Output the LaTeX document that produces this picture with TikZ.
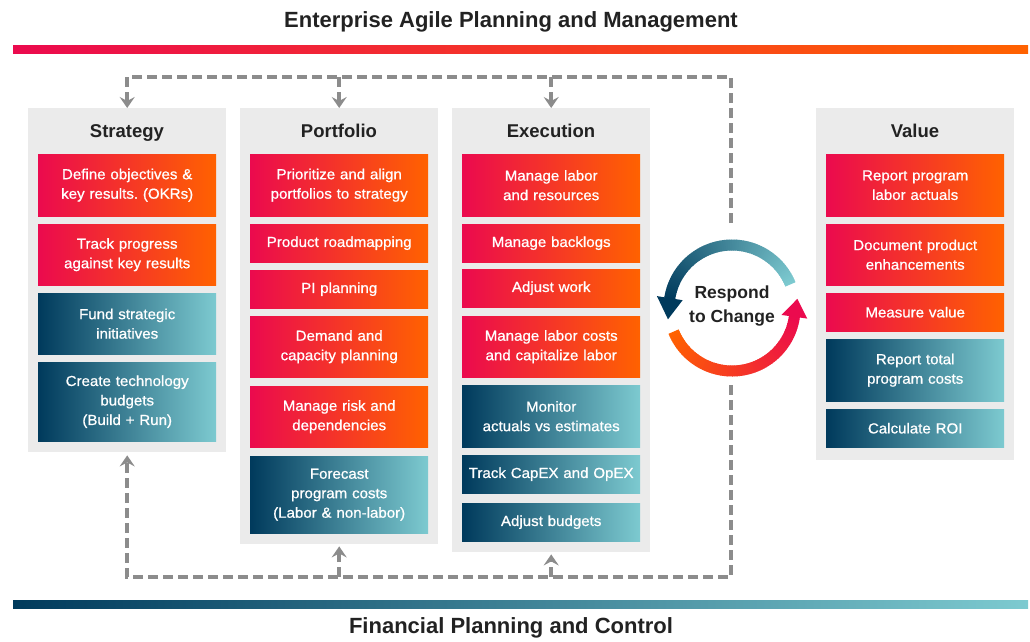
\documentclass[tikz,border=0pt]{standalone}
\usepackage{fontspec}
\setmainfont{Liberation Sans}
\newfontfamily\medfont[FakeBold=0.8,FakeStretch=1.04]{Liberation Sans}
\usetikzlibrary{arrows.meta}
\definecolor{pinkc}{HTML}{EB0A4E}
\definecolor{orangec}{HTML}{FF6200}
\definecolor{navyc}{HTML}{003A5C}
\definecolor{tealc}{HTML}{7DCAD0}
\definecolor{panelc}{HTML}{EBEBEB}
\definecolor{dashc}{HTML}{8C8C8C}
\definecolor{inkc}{HTML}{222222}
\frenchspacing
\begin{document}
\begin{tikzpicture}[x=1pt,y=-1pt,
  panel/.style={fill=panelc, inner sep=0pt, anchor=north west, minimum width=198pt},
  hdr/.style={font=\fontsize{18.5}{20}\selectfont\bfseries, text=inkc, anchor=base, inner sep=0pt},
  ttl/.style={font=\fontsize{22}{24}\selectfont\bfseries, text=inkc},
  box/.style={inner sep=0pt, anchor=north west, minimum width=178pt, text width=178pt, align=center, text=white, font=\medfont\fontsize{14.5}{19.5}\selectfont},
  orbox/.style={box, left color=pinkc, right color=orangec},
  blbox/.style={box, left color=navyc, right color=tealc},
  link/.style={draw=dashc, line width=4.5pt, dash pattern=on 10pt off 5pt, line join=miter},
  linkarr/.style={link, -{Stealth[length=11pt,width=15pt,inset=4pt,fill=dashc]}}
]
\useasboundingbox (0,0) rectangle (1030,641);
\fill[white] (0,0) rectangle (1030,641);

% titles and bars
\node[ttl] (title) at (511,22) {Enterprise Agile Planning and Management};
\shade[left color=pinkc, right color=orangec] (13,45) rectangle (1028,53);
\shade[left color=navyc, right color=tealc] (13,600) rectangle (1028,608);
\node[ttl] (ftitle) at (511,628) {Financial Planning and Control};

% panels
\node[panel, minimum height=344pt] (strategy) at (28,108) {};
\node[panel, minimum height=436pt] (portfolio) at (240,108) {};
\node[panel, minimum height=444pt] (execution) at (452,108) {};
\node[panel, minimum height=352pt] (value) at (816,108) {};

\node[hdr] (hs) at (127,137) {Strategy};
\node[hdr] (hp) at (339,137) {Portfolio};
\node[hdr] (he) at (551,137) {Execution};
\node[hdr] (hv) at (915,137) {Value};

% strategy
\node[orbox, minimum height=62pt] (s1) at (38,154) {Define objectives \&\\key results. (OKRs)};
\node[orbox, minimum height=61pt] (s2) at (38,224) {Track progress\\against key results};
\node[blbox, minimum height=61pt] (s3) at (38,293) {Fund strategic\\initiatives};
\node[blbox, minimum height=79pt] (s4) at (38,362) {Create technology\\budgets\\(Build + Run)};

% portfolio
\node[orbox, minimum height=62pt] (p1) at (250,154) {Prioritize and align\\portfolios to strategy};
\node[orbox, minimum height=38pt] (p2) at (250,224) {Product roadmapping};
\node[orbox, minimum height=38pt] (p3) at (250,270) {PI planning};
\node[orbox, minimum height=61pt] (p4) at (250,316) {Demand and\\capacity planning};
\node[orbox, minimum height=61pt] (p5) at (250,386) {Manage risk and\\dependencies};
\node[blbox, minimum height=77pt] (p6) at (250,456) {Forecast\\program costs\\(Labor \& non-labor)};

% execution
\node[orbox, minimum height=62pt] (e1) at (462,154) {Manage labor\\and resources};
\node[orbox, minimum height=38pt] (e2) at (462,224) {Manage backlogs};
\node[orbox, minimum height=38pt] (e3) at (462,269) {Adjust work};
\node[orbox, minimum height=61pt] (e4) at (462,316) {Manage labor costs\\and capitalize labor};
\node[blbox, minimum height=62pt] (e5) at (462,385) {Monitor\\actuals vs estimates};
\node[blbox, minimum height=38pt] (e6) at (462,455) {Track CapEX and OpEX};
\node[blbox, minimum height=38pt] (e7) at (462,503) {Adjust budgets};

% value
\node[orbox, minimum height=62pt] (v1) at (826,154) {Report program\\labor actuals};
\node[orbox, minimum height=61pt] (v2) at (826,224) {Document product\\enhancements};
\node[orbox, minimum height=38pt] (v3) at (826,293) {Measure value};
\node[blbox, minimum height=62pt] (v4) at (826,339) {Report total\\program costs};
\node[blbox, minimum height=38pt] (v5) at (826,409) {Calculate ROI};

% respond to change cycle
\node[font=\fontsize{17.5}{24}\selectfont\bfseries, text=inkc, align=center] (cyc) at (732,306) {Respond\\to Change};
\foreach \a in {22,24,...,170}{
  \pgfmathsetmacro\pp{100*(\a-22)/149}
  \draw[line width=11pt, draw=navyc!\pp!tealc] ({732+63*cos(\a)},{308-63*sin(\a)}) -- ({732+63*cos(\a+2.6)},{308-63*sin(\a+2.6)});
}
\fill[navyc] ({732+50*cos(171)},{308-50*sin(171)}) -- ({732+76*cos(171)},{308-76*sin(171)}) -- ({732+65*cos(190)},{308-65*sin(190)}) -- cycle;
\foreach \a in {202,204,...,350}{
  \pgfmathsetmacro\pp{100*(\a-202)/150}
  \draw[line width=11pt, draw=pinkc!\pp!orangec] ({732+63*cos(\a)},{308-63*sin(\a)}) -- ({732+63*cos(\a+2.6)},{308-63*sin(\a+2.6)});
}
\fill[pinkc] ({732+50*cos(352)},{308-50*sin(352)}) -- ({732+76*cos(352)},{308-76*sin(352)}) -- ({732+66*cos(8)},{308-66*sin(8)}) -- cycle;

% dashed connectors
\coordinate (topy) at (0,77);
\coordinate (boty) at (0,577);
\coordinate (rtop) at (731,223);
\coordinate (rbot) at (731,385);
\draw[linkarr] (rtop) |- (strategy.north |- topy) -- (strategy.north);
\draw[linkarr] (portfolio.north |- topy) -- (portfolio.north);
\draw[linkarr] (execution.north |- topy) -- (execution.north);
\draw[linkarr, shorten >=3pt] (rbot) |- (strategy.south |- boty) -- (strategy.south);
\draw[linkarr, shorten >=2pt] (portfolio.south |- boty) -- (portfolio.south);
\draw[linkarr, shorten >=2pt] (execution.south |- boty) -- (execution.south);
\end{tikzpicture}
\end{document}
